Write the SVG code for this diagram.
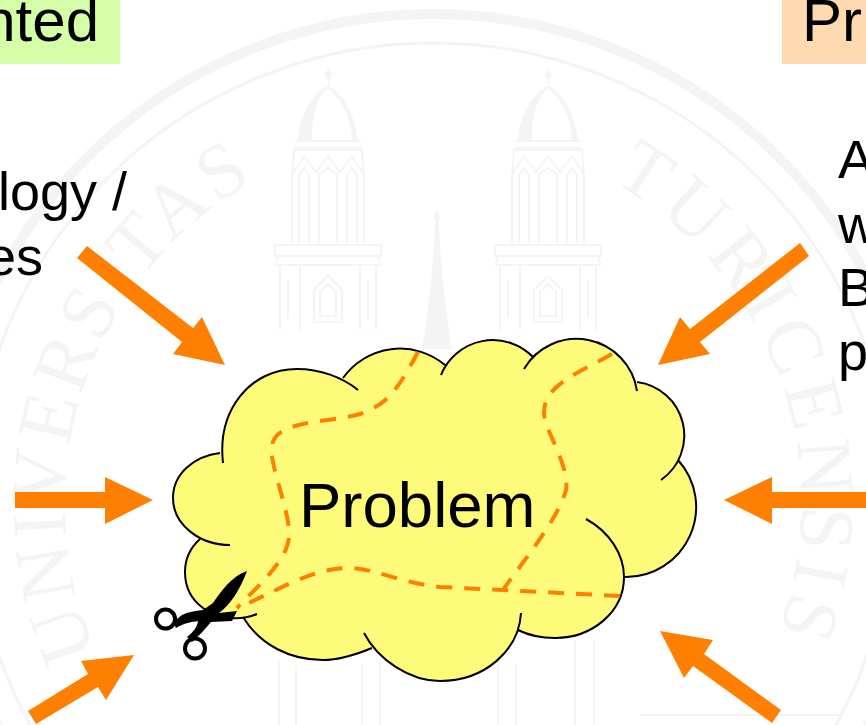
<svg xmlns="http://www.w3.org/2000/svg" width="866" height="725" viewBox="0 0 866 725">
<style>
text{font-family:"Liberation Sans",Arial,sans-serif;fill:#000}
.body{font-size:54px}
.head{font-size:60px}
.wm{fill:none;stroke:#f4f4f4;stroke-width:2}
.wmf{fill:#f4f4f4;stroke:none}
text.seal{font-family:"Liberation Serif","Times New Roman",serif;font-size:78px;fill:#f4f4f4}
.arrow{fill:#ff7f00}
.dash{fill:none;stroke:#ff7f00;stroke-width:4;stroke-dasharray:16 12}
</style>
<defs>
<path id="sealLeft" d="M 97,653 A 368,368 0 0 1 260,178"/>
<path id="sealRight" d="M 611,181 A 368,368 0 0 1 715,740"/>
<g id="tower">
<path class="wmf" d="M0,68 l4,7 -3,5 0,6 c14,8 26,28 29,54 l-6,0 c-1,-24 -10,-40 -24,-52 c-12,10 -16,30 -16,52 l-14,0 c2,-26 14,-46 30,-54 l0,-6 -3,-5z"/>
<path class="wm" d="M-33,141 H33 M-33,148 H33 M-34,148 V150 H34 V148 M-36,243 V175 L-34,150 M36,243 V175 L34,150 M-36,175 L-24,156 -12,172 0,156 12,172 24,156 36,175 M-29,243 V175 L-24,168 -19,175 V243 M-9,243 V175 L0,168 9,175 V243 M19,243 V175 L24,168 29,175 V243"/>
<path class="wm" d="M-53,245 H53 V256 H-53Z M-50,256 L-52,265 H52 L50,256 M-48,265 V330 M48,265 V330 M-28,265 V330 M32,265 V330 M-40,280 V318 M40,280 V318 M-14,322 V290 L0,276 14,290 V322Z M-8,316 V292 L0,284 8,292 V316Z"/>
</g>
</defs>
<rect width="866" height="725" fill="#fff"/>
<g id="watermark">
<circle cx="433" cy="503" r="489" fill="none" stroke="#f4f4f4" stroke-width="10"/>
<circle cx="433" cy="503" r="460" fill="none" stroke="#f4f4f4" stroke-width="3"/>
<use href="#tower" x="328"/>
<use href="#tower" x="548"/>
<path class="wmf" d="M437,210 l3,7 -1,4 c1,40 6,85 13,128 h-30 c7,-43 12,-88 13,-128 l-1,-4z"/>
<path class="wm" d="M279,660 V725 M296,665 V725 M362,665 V725 M380,660 V725 M498,660 V725 M516,665 V725 M575,640 V725 M594,640 V725 M640,715 H840"/>
<text class="seal" letter-spacing="4"><textPath href="#sealLeft">UNIVERSITAS</textPath></text>
<text class="seal" letter-spacing="8"><textPath href="#sealRight">TURICENSIS</textPath></text>
</g>
<g id="label-left">
<rect x="-1" y="-1" width="121" height="65" fill="#d4ffa8"/>
<text class="head" x="99" y="41" text-anchor="end">nted</text>
<text class="body" x="-2" y="210">logy /</text>
<text class="body" x="43" y="275" text-anchor="end">es</text>
</g>
<g id="label-right">
<rect x="782" y="-1" width="85" height="65" fill="#ffdab0"/>
<text class="head" x="802" y="41">Pr</text>
<text class="body" x="838" y="178">A</text>
<text class="body" x="838" y="243">w</text>
<text class="body" x="838" y="306">B</text>
<text class="body" x="838" y="370">p</text>
</g>
<g id="connectors">
<polygon class="arrow" points="87,246 193,328 202,317 225,365 173,354 182,342 77,258"/>
<polygon class="arrow" points="15,492 105,492 105,477 153,500 105,524 105,508 15,508"/>
<polygon class="arrow" points="28,711 88,674 81,661 134,655 106,700 98,687 36,724"/>
<polygon class="arrow" points="800,243 690,329 680,317 658,365 710,354 700,342 809,256"/>
<polygon class="arrow" points="866,492 772,492 772,477 724,500 772,524 772,508 866,508"/>
<polygon class="arrow" points="781,710 704,654 713,640 660,631 684,678 693,666 772,723"/>
</g>
<g id="problem">
<path fill="#fffb7a" d="M223,463 C217,410 250,369 297,369 C320,369 342,377 358,390 L343,378 A70,70 0 0 1 445,365 L441,375 A56,56 0 0 1 533,357 L524,369 A61,61 0 0 1 637,391 L637,382 A54,54 0 0 1 661,480 L678,460 A70,70 0 0 1 625,577 L586,519 C610,532 624,555 624,577 C624,612 592,638 555,638 C540,638 528,635 518,630 L521,613 C519,650 485,681 440,681 C410,681 378,660 364,633 L372,648 C355,655 340,660 323,660 C290,660 260,645 243,617 L257,614 C238,622 215,618 203,608 C192,600 185,588 185,572 C185,560 190,548 200,539 L230,545 C200,545 173,525 173,498 C173,473 195,456 220,453 Z"/>
<path fill="none" stroke="#000" stroke-width="2" d="M223,463 C217,410 250,369 297,369 C320,369 342,377 358,390 M343,378 A70,70 0 0 1 445,365 M441,375 A56,56 0 0 1 533,357 M524,369 A61,61 0 0 1 637,391 M637,382 A54,54 0 0 1 661,480 M678,460 A70,70 0 0 1 625,577 M586,519 C610,532 624,555 624,577 C624,612 592,638 555,638 C540,638 528,635 518,630 M521,613 C519,650 485,681 440,681 C410,681 378,660 364,633 M372,648 C355,655 340,660 323,660 C290,660 260,645 243,617 M257,614 C238,622 215,618 203,608 C192,600 185,588 185,572 C185,560 190,548 200,539 M230,545 C200,545 173,525 173,498 C173,473 195,456 220,453"/>
<path class="dash" d="M418,352 C395,395 385,405 360,414 C340,420 315,420 295,426 C275,432 270,440 272,457 C276,480 286,505 289,528 C290,543 286,552 278,563 C268,578 250,594 237,608"/>
<path class="dash" d="M620,596 L503,590 L440,587 C400,583 375,568 347,568 C310,568 270,595 237,608"/>
<path class="dash" d="M612,354 C575,375 544,385 544,413 C544,430 570,465 566,490 C558,520 520,565 503,590"/>
<text x="299" y="527" font-size="63.500">Problem</text>
</g>
<g id="scissors">
<path fill="#000" d="M247,571 C232,576 222,590 213,603 L203,610 C195,611 188,612 182,615 L173,622 L176,628 C184,623 192,622 198,621 C197,628 193,632 187,637 L192,642 C201,634 206,628 211,622 L232,621 L237,611 L219,613 C230,605 240,590 247,571Z"/>
<circle cx="165.500" cy="619" r="9.500" fill="none" stroke="#000" stroke-width="4"/>
<circle cx="195" cy="648.500" r="10" fill="none" stroke="#000" stroke-width="4"/>
</g>
</svg>
